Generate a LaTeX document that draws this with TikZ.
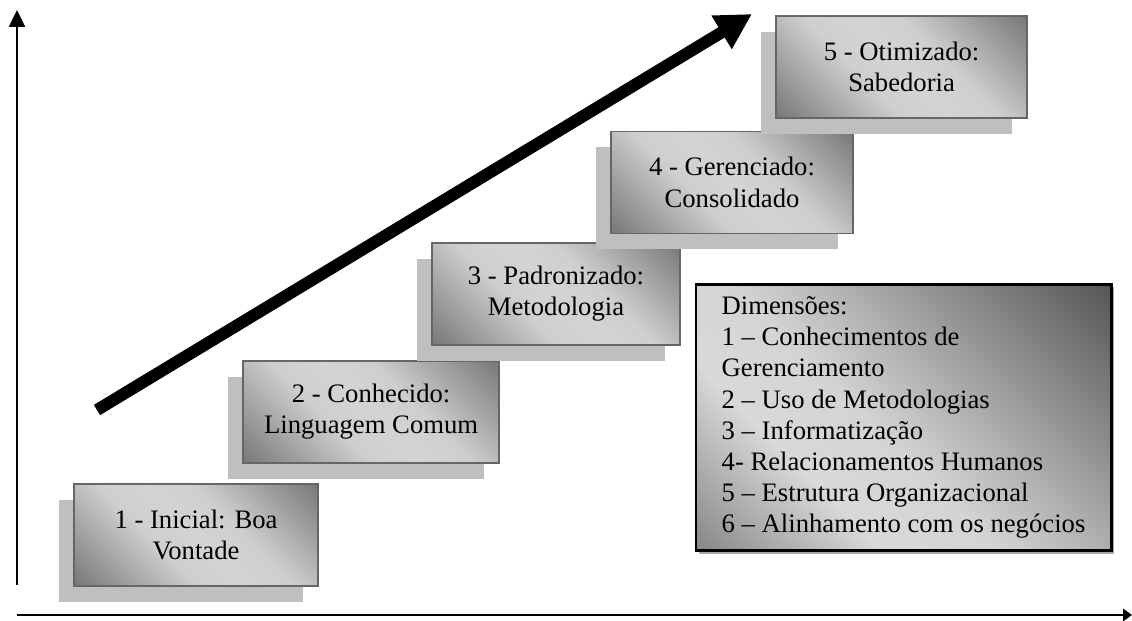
\documentclass[tikz,border=0pt]{standalone}
\usepackage{fontspec}
\setmainfont{Liberation Serif}
\usetikzlibrary{arrows.meta, positioning, shadows}
\pgfdeclareverticalshading{stepshade}{100bp}{color(0bp)=(black!64); color(8bp)=(black!62); color(40bp)=(black!19); color(50bp)=(black!17); color(60bp)=(black!19); color(92bp)=(black!62); color(100bp)=(black!64)}
\pgfdeclareverticalshading{dimshade}{100bp}{color(0bp)=(black!58); color(10bp)=(black!55); color(34bp)=(black!15); color(46bp)=(black!17); color(90bp)=(black!72); color(100bp)=(black!74)}

\begin{document}
\begin{tikzpicture}[x=0.45pt, y=-0.45pt, font=\fontsize{12pt}{14pt}\selectfont]

	\tikzset{
		stage/.style={
				rectangle, draw=black!60, line width=0.8pt, shade, shading=stepshade, shading angle=-45, align=center, inner sep=2pt, minimum height=45.9pt,
				drop shadow={shadow xshift=-6.8pt, shadow yshift=-7.2pt, fill=black!25, opacity=1}
			},
		dimbox/.style={
				rectangle, draw=black, line width=1.3pt, shade, shading=dimshade, shading angle=-45, align=left, minimum width=186.8pt, minimum height=120pt,
				drop shadow={shadow xshift=1.2pt, shadow yshift=-1.2pt, fill=black!35, opacity=1}
			},
		axisline/.style={
				line width=0.9pt
			},
	}
	\useasboundingbox (0,0) rectangle (1132,621);

	\node[stage, minimum width=109.8pt] (lv1) at (196,535) {1 - Inicial: Boa\\Vontade};
	\node[stage, minimum width=115.2pt, above of=lv1, xshift=78.8pt, yshift=26.9pt] (lv2) {2 - Conhecido:\\Linguagem Comum};
	\node[stage, minimum width=111.6pt, above of=lv2, xshift=83.2pt, yshift=24.7pt] (lv3) {3 - Padronizado:\\Metodologia};
	\node[stage, minimum width=108.9pt, above of=lv3, xshift=79.2pt, yshift=21.7pt] (lv4) {4 - Gerenciado:\\Consolidado};
	\node[stage, minimum width=113pt, above of=lv4, xshift=76.3pt, yshift=23.5pt] (lv5) {5 - Otimizado:\\Sabedoria};

	\node[dimbox] (dim) at (903.5,417.5) {Dimensões:\\1 – Conhecimentos de\\Gerenciamento\\2 – Uso de Metodologias\\3 – Informatização\\4- Relacionamentos Humanos\\5 – Estrutura Organizacional\\6 – Alinhamento com os negócios};

	\coordinate (ybot) at (17,585);
	\coordinate (ytop) at (17,10);
	\coordinate (xleft) at (17,615);
	\coordinate (xright) at (1132,615);
	\draw[axisline, -{Triangle[length=7.6pt, width=7.2pt]}] (ybot) -- (ytop);
	\draw[axisline, -{Triangle[length=4pt, width=5.5pt]}] (xleft) -- (xright);

	\coordinate (grow0) at (97,410);
	\coordinate (grow1) at (752,14);
	\draw[line width=5.4pt, -{Triangle[length=16pt, width=16.5pt]}] (grow0) -- (grow1);

\end{tikzpicture}
\end{document}
